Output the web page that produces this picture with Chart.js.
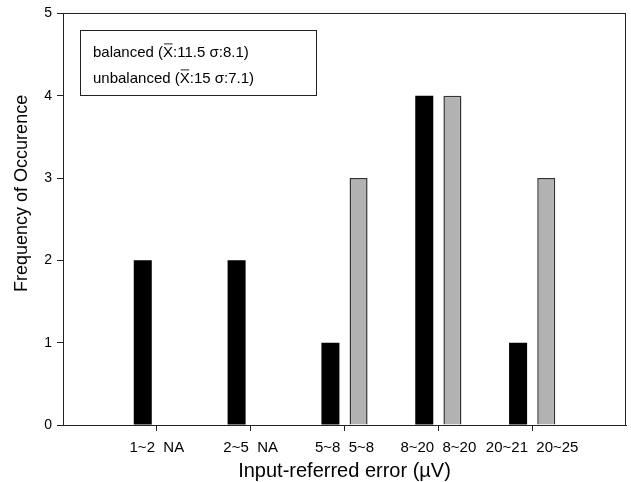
<!DOCTYPE html>
<html lang="en">
<head>
    <meta charset="UTF-8">
    <title>Frequency of Occurence</title>
    <script src="https://cdn.jsdelivr.net/npm/chart.js"></script>
    <style>
        body {
            margin: 0;
            background: #fff;
        }
        #chartContainer {
            width: 631px;
            height: 482px;
        }
    </style>
</head>
<body>
    <div id="chartContainer">
        <canvas id="freqChart" width="631" height="482"></canvas>
    </div>

    <script>
        // tick labels under each pair of bars (balanced  unbalanced)
        const xLabels = ['1~2  NA', '2~5  NA', '5~8  5~8', '8~20  8~20', '20~21  20~25'];
        const balanced = [2, 2, 1, 4, 1];
        const unbalanced = [null, null, 3, 4, 3];   // null = NA
        const yTicks = [0, 1, 2, 3, 4, 5];

        const legendNames = ['balanced', 'unbalanced'];
        const legendMeans = ['11.5', '15'];
        const legendSigmas = ['8.1', '7.1'];

        const FONT = 'Arial, "Liberation Sans", sans-serif';

        function toPoints(values) {
            return values.map((v, i) => ({ x: i + 1, y: v }));
        }

        // box around the plot + y title + stats box
        const decorPlugin = {
            id: 'decor',
            afterDraw(chart) {
                const { ctx, chartArea: a } = chart;
                ctx.save();
                ctx.strokeStyle = '#222';
                ctx.lineWidth = 1;
                ctx.strokeRect(Math.round(a.left) + 0.5, Math.round(a.top) + 0.5,
                    Math.round(a.right - a.left) - 1, Math.round(a.bottom - a.top));

                // y axis title
                ctx.fillStyle = '#000';
                ctx.font = '18px ' + FONT;
                ctx.textAlign = 'center';
                ctx.textBaseline = 'middle';
                ctx.translate(22, a.top + 180);
                ctx.rotate(-Math.PI / 2);
                ctx.fillText('Frequency of Occurence', 0, 0);
                ctx.restore();

                // stats box
                ctx.save();
                const bx = a.left + 17, by = a.top + 17;
                ctx.strokeStyle = '#222';
                ctx.strokeRect(Math.round(bx) + 0.5, Math.round(by) + 0.5, 236, 65);
                ctx.font = '15px ' + FONT;
                ctx.fillStyle = '#000';
                ctx.textBaseline = 'middle';
                ctx.textAlign = 'left';
                legendNames.forEach((name, i) => {
                    const y = by + 22 + i * 26;
                    let x = bx + 13;
                    const before = name + ' (';
                    const after = ':' + legendMeans[i] + ' \u03c3:' + legendSigmas[i] + ')';
                    ctx.fillText(before, x, y);
                    x += ctx.measureText(before).width;
                    ctx.fillText('X', x, y);
                    const w = ctx.measureText('X').width;
                    ctx.beginPath();
                    ctx.moveTo(x + 1, y - 8.5);
                    ctx.lineTo(x + w - 0.5, y - 8.5);
                    ctx.lineWidth = 1;
                    ctx.stroke();
                    x += w;
                    ctx.fillText(after, x, y);
                });
                ctx.restore();
            }
        };

        const ctx = document.getElementById('freqChart').getContext('2d');
        new Chart(ctx, {
            type: 'bar',
            data: {
                datasets: [{
                    label: 'balanced',
                    data: toPoints(balanced),
                    backgroundColor: '#000',
                    borderWidth: 0
                }, {
                    label: 'unbalanced',
                    data: toPoints(unbalanced),
                    backgroundColor: '#b2b2b2',
                    borderColor: '#333',
                    borderWidth: 1.5
                }]
            },
            options: {
                responsive: false,
                animation: false,
                categoryPercentage: 0.6,
                barPercentage: 0.64,
                layout: { padding: { left: 0, top: 11, right: 5, bottom: 0 } },
                plugins: {
                    legend: { display: false },
                    tooltip: { enabled: false }
                },
                scales: {
                    x: {
                        type: 'linear',
                        offset: false,
                        min: 0,
                        max: xLabels.length + 1,
                        afterBuildTicks(scale) {
                            scale.ticks = xLabels.map((_, i) => ({ value: i + 1 }));
                        },
                        afterFit(scale) { scale.height = 57; },
                        grid: {
                            offset: false,
                            drawOnChartArea: false,
                            drawTicks: true,
                            tickLength: 6,
                            tickColor: '#222'
                        },
                        border: { display: true, color: '#222' },
                        ticks: {
                            autoSkip: false,
                            maxRotation: 0,
                            padding: 8,
                            color: '#000',
                            font: { family: FONT, size: 15 },
                            callback: (v) => xLabels[v - 1]
                        },
                        title: {
                            display: true,
                            text: 'Input-referred error (\u00b5V)',
                            color: '#000',
                            font: { family: FONT, size: 20 },
                            padding: { top: 0, bottom: -1 }
                        }
                    },
                    y: {
                        min: yTicks[0],
                        max: yTicks[yTicks.length - 1],
                        afterBuildTicks(scale) {
                            scale.ticks = yTicks.map(v => ({ value: v }));
                        },
                        afterFit(scale) { scale.width = 63; },
                        grid: {
                            drawOnChartArea: false,
                            drawTicks: true,
                            tickLength: 6,
                            tickColor: '#222'
                        },
                        border: { display: true, color: '#222' },
                        ticks: {
                            padding: 5,
                            color: '#000',
                            font: { family: FONT, size: 14 }
                        }
                    }
                }
            },
            plugins: [decorPlugin]
        });
    </script>
</body>
</html>
